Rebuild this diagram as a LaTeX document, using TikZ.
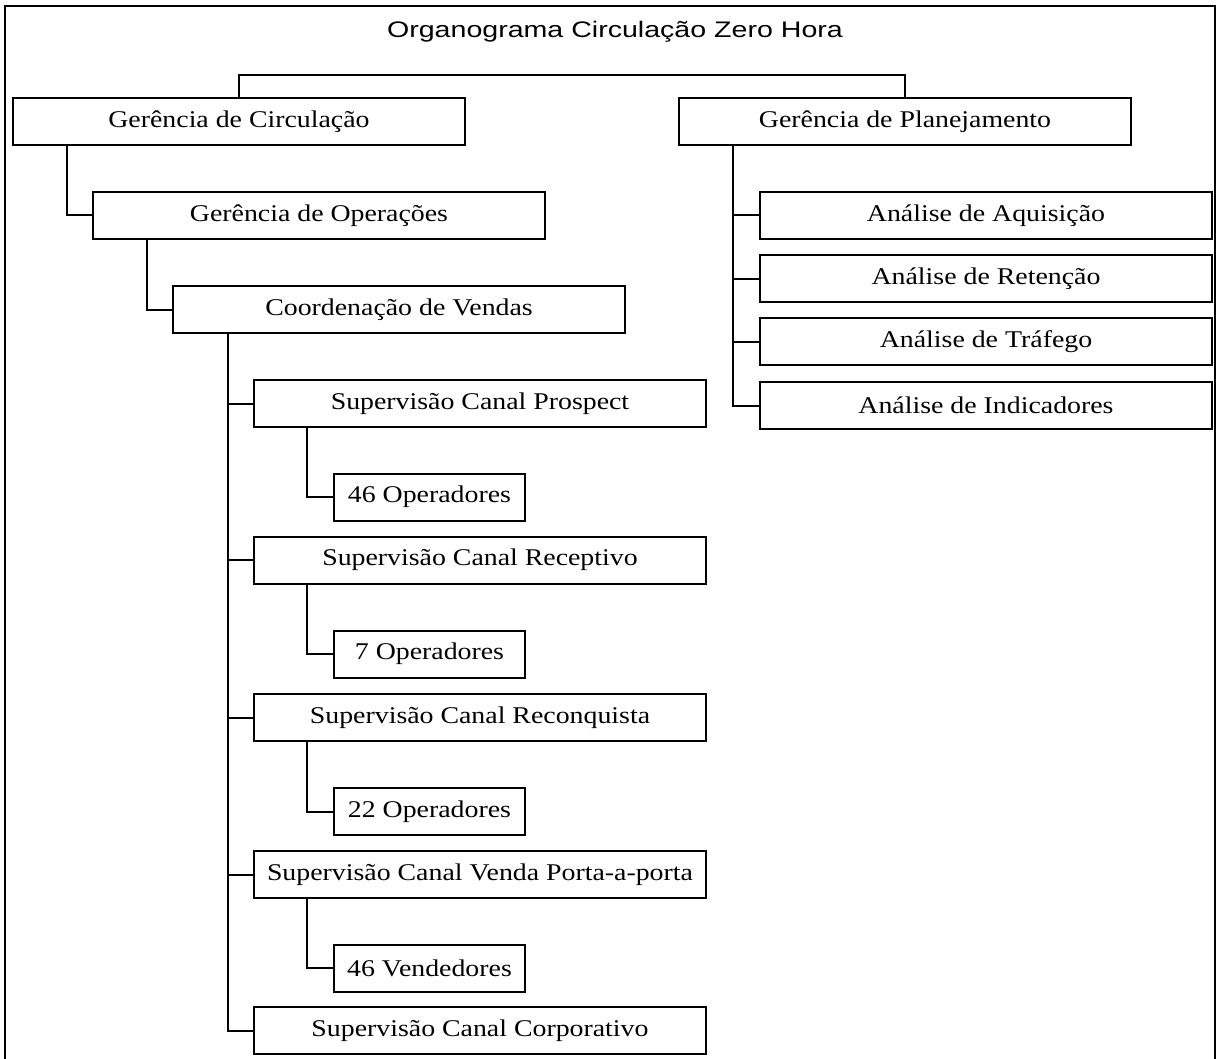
\documentclass[tikz,border=0pt]{standalone}
\usepackage{fontspec}
\setmainfont[FakeStretch=1.16]{Liberation Serif}
\newfontfamily\titlefont[FakeStretch=1.27]{Liberation Sans}
\begin{document}
\begin{tikzpicture}[x=1pt,y=-1pt,
  box/.style={draw, line width=2pt, minimum height=47pt, inner sep=0pt,
    font=\fontsize{24}{28}\selectfont, anchor=west},
  wide/.style={box, minimum width=452pt},
  small/.style={box, minimum width=191pt},
  link/.style={line width=2pt}]
\useasboundingbox (0,0) rectangle (1220,1059);
\fill[white] (0,0) rectangle (1220,1059);
\draw[line width=2.8pt] (5,1070) -- (5,6) -- (1215,6) -- (1215,1070);
\node[font=\titlefont\fontsize{22.5}{26}\selectfont] (title) at (615,32) {Organograma Circulação Zero Hora};

\node[wide] (circ) at (12,121.5) {Gerência de Circulação};
\node[wide] (plan) at (678,121.5) {Gerência de Planejamento};
\node[wide] (oper) at (92,215.5) {Gerência de Operações};
\node[wide] (coord) at (172,309.5) {Coordenação de Vendas};

\node[wide] (s1) at (253,403.5) {Supervisão Canal Prospect};
\node[wide] (s2) at (253,560) {Supervisão Canal Receptivo};
\node[wide] (s3) at (253,717.5) {Supervisão Canal Reconquista};
\node[wide] (s4) at (253,874.5) {Supervisão Canal Venda Porta-a-porta};
\node[wide] (s5) at (253,1030.5) {Supervisão Canal Corporativo};

\node[small] (o1) at (333,497) {46 Operadores};
\node[small] (o2) at (333,654) {7 Operadores};
\node[small] (o3) at (333,811.5) {22 Operadores};
\node[small] (o4) at (333,968) {46 Vendedores};

\node[wide] (a1) at (759,215.5) {Análise de Aquisição};
\node[wide] (a2) at (759,278.5) {Análise de Retenção};
\node[wide] (a3) at (759,341.5) {Análise de Tráfego};
\node[wide] (a4) at (759,405.5) {Análise de Indicadores};

\coordinate (topbar) at (0,75);
\draw[link] (circ.north) -- (circ.north |- topbar) -| (plan.north);
\draw[link] ([xshift=55pt]circ.south west) |- (oper.west);
\draw[link] ([xshift=55pt]oper.south west) |- (coord.west);
\draw[link] ([xshift=56pt]coord.south west) |- (s5.west);
\foreach \s in {s1,s2,s3,s4}
  \draw[link] ([xshift=56pt]coord.south west) |- (\s.west);
\foreach \s/\o in {s1/o1,s2/o2,s3/o3,s4/o4}
  \draw[link] ([xshift=54pt]\s.south west) |- (\o.west);
\draw[link] ([xshift=55pt]plan.south west) |- (a4.west);
\foreach \a in {a1,a2,a3}
  \draw[link] ([xshift=55pt]plan.south west) |- (\a.west);
\end{tikzpicture}
\end{document}
